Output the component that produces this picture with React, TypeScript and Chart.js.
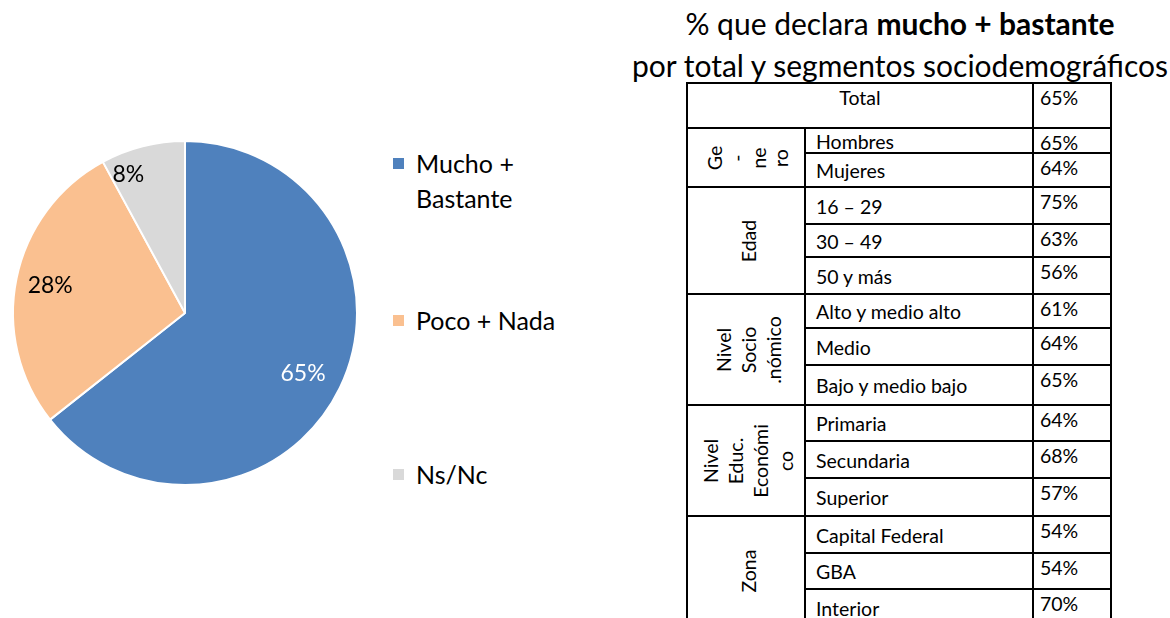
import React, { useEffect, useRef } from "react";
import { Chart, registerables } from "chart.js";

Chart.register(...registerables);

// ---------- data ----------
const pieLabels = ["Mucho + Bastante", "Poco + Nada", "Ns/Nc"];
const pieValues = [65, 28, 8];
const pieColors = ["#4F81BD", "#FAC090", "#D9D9D9"];
const pieLabelColors = ["#FFFFFF", "#000000", "#000000"];

const titleNormal = "% que declara ";
const titleBold = "mucho + bastante";
const titleLine2 = "por total y segmentos sociodemográficos";

const totalLabel = "Total";
const totalValue = 65;

const groupNames = [
  ["Ge", "-", "ne", "ro"],
  ["Edad"],
  ["Nivel", "Socio", ".nómico"],
  ["Nivel", "Educ.", "Económi", "co"],
  ["Zona"],
];
const segmentLabels = [
  ["Hombres", "Mujeres"],
  ["16 – 29", "30 – 49", "50 y más"],
  ["Alto y medio alto", "Medio", "Bajo y medio bajo"],
  ["Primaria", "Secundaria", "Superior"],
  ["Capital Federal", "GBA", "Interior"],
];
const segmentValues = [
  [65, 64],
  [75, 63, 56],
  [61, 64, 65],
  [64, 68, 57],
  [54, 54, 70],
];

// ---------- layout / style ----------
const FONT = "Lato, 'Open Sans', sans-serif";
const colX = [687, 805, 1033, 1111];
const rowY = [83, 128, 153, 187, 224, 257, 294, 328, 365, 405, 441, 478, 516, 553, 589, 626];
const labelPlacement = [
  { f: 0.77, shift: 0.02 },
  { f: 0.8, shift: 0 },
  { f: 0.87, shift: -0.14 },
];
const legendTops = [146, 303, 457];
const groupLineHeights = [22, 25, 25, 25, 25];

const pieLabelPlugin = {
  id: "pieLabels",
  afterDatasetsDraw(chart: any) {
    const ctx = chart.ctx;
    const meta = chart.getDatasetMeta(0);
    ctx.save();
    ctx.font = `23px ${FONT}`;
    ctx.textAlign = "center";
    ctx.textBaseline = "middle";
    meta.data.forEach((arc: any, i: number) => {
      const p = arc.getProps(["x", "y", "startAngle", "endAngle", "outerRadius"], true);
      const mid = (p.startAngle + p.endAngle) / 2 + labelPlacement[i].shift;
      const r = p.outerRadius * labelPlacement[i].f;
      ctx.fillStyle = pieLabelColors[i];
      ctx.fillText(pieValues[i] + "%", p.x + Math.cos(mid) * r, p.y + Math.sin(mid) * r);
    });
    ctx.restore();
  },
};

function Pie() {
  const ref = useRef<HTMLCanvasElement>(null);
  useEffect(() => {
    if (!ref.current) return;
    const chart = new Chart(ref.current, {
      type: "pie",
      data: {
        labels: pieLabels,
        datasets: [
          {
            data: pieValues,
            backgroundColor: pieColors,
            borderColor: "#FFFFFF",
            borderWidth: 2,
            radius: 172,
          } as any,
        ],
      },
      options: {
        responsive: false,
        animation: false,
        layout: { padding: 0 },
        plugins: { legend: { display: false }, tooltip: { enabled: false } },
      },
      plugins: [pieLabelPlugin],
    });
    return () => chart.destroy();
  }, []);
  return (
    <canvas
      ref={ref}
      width={370}
      height={626}
      style={{ position: "absolute", left: 0, top: 0, width: 370, height: 626 }}
    />
  );
}

function Cell(props: { x0: number; x1: number; y0: number; y1: number; children?: any; style?: any }) {
  const { x0, x1, y0, y1 } = props;
  return (
    <div
      style={{
        position: "absolute",
        left: x0 - 1,
        top: y0 - 1,
        width: x1 - x0 + 2,
        height: y1 - y0 + 2,
        border: "2px solid #000",
        boxSizing: "border-box",
        overflow: "hidden",
        ...props.style,
      }}
    >
      {props.children}
    </div>
  );
}

function Table() {
  const cells: any[] = [];
  cells.push(
    <Cell key="tl" x0={colX[0]} x1={colX[2]} y0={rowY[0]} y1={rowY[1]} style={{ textAlign: "center", paddingTop: 1 }}>
      {totalLabel}
    </Cell>
  );
  cells.push(
    <Cell key="tv" x0={colX[2]} x1={colX[3]} y0={rowY[0]} y1={rowY[1]} style={{ paddingLeft: 6, paddingTop: 1 }}>
      {totalValue + "%"}
    </Cell>
  );
  let r = 1;
  groupNames.forEach((g, gi) => {
    const n = segmentLabels[gi].length;
    const y0 = rowY[r];
    const y1 = rowY[r + n];
    cells.push(
      <Cell key={"g" + gi} x0={colX[0]} x1={colX[1]} y0={y0} y1={y1}>
        <div
          style={{
            position: "absolute",
            left: "50%",
            top: "50%",
            width: y1 - y0,
            transform: "translate(-50%, -50%) rotate(-90deg)",
            textAlign: "center",
            lineHeight: groupLineHeights[gi] + "px",
            marginLeft: 2,
          }}
        >
          {g.map((line, li) => (
            <div key={li}>{line}</div>
          ))}
        </div>
      </Cell>
    );
    segmentLabels[gi].forEach((lab, si) => {
      const a = rowY[r + si];
      const b = rowY[r + si + 1];
      cells.push(
        <Cell
          key={"l" + gi + "-" + si}
          x0={colX[1]}
          x1={colX[2]}
          y0={a}
          y1={b}
          style={{ display: "flex", alignItems: "center", paddingLeft: 10, paddingTop: 2 }}
        >
          {lab}
        </Cell>
      );
      cells.push(
        <Cell
          key={"v" + gi + "-" + si}
          x0={colX[2]}
          x1={colX[3]}
          y0={a}
          y1={b}
          style={{ paddingLeft: 6, paddingTop: 1 }}
        >
          {segmentValues[gi][si] + "%"}
        </Cell>
      );
    });
    r += n;
  });
  return <>{cells}</>;
}

export default function App() {
  return (
    <div
      style={{
        position: "fixed",
        left: 0,
        top: 0,
        width: 1170,
        height: 618,
        overflow: "hidden",
        background: "#fff",
        fontFamily: FONT,
        color: "#000",
      }}
    >
      <Pie />
      {pieLabels.map((lab, i) => (
        <div
          key={lab}
          style={{
            position: "absolute",
            left: 393,
            top: legendTops[i],
            width: 170,
            fontSize: 25,
            lineHeight: "35px",
          }}
        >
          <span
            style={{
              position: "absolute",
              left: 0,
              top: 12,
              width: 11,
              height: 11,
              background: pieColors[i],
            }}
          />
          <div style={{ marginLeft: 23, width: i === 0 ? 110 : 150 }}>{lab}</div>
        </div>
      ))}
      <div
        style={{
          position: "absolute",
          left: 600,
          top: 2,
          width: 600,
          textAlign: "center",
          fontSize: 30,
          lineHeight: "42px",
          whiteSpace: "nowrap",
        }}
      >
        <div>
          {titleNormal}
          <b>{titleBold}</b>
        </div>
        <div>{titleLine2}</div>
      </div>
      <div style={{ position: "absolute", left: 0, top: 0, fontSize: 19.5, lineHeight: "26px" }}>
        <Table />
      </div>
    </div>
  );
}
